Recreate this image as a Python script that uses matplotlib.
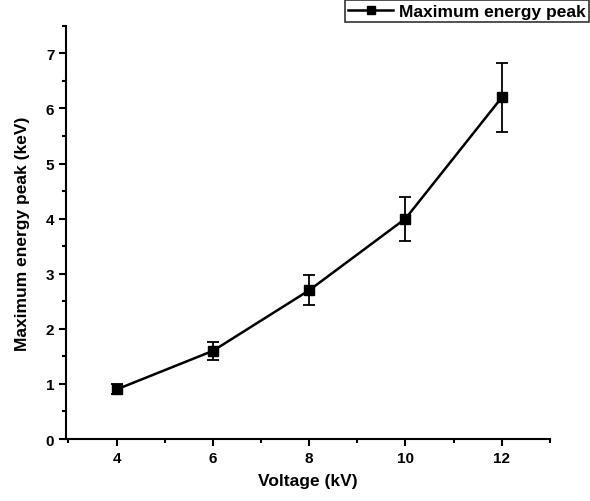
import matplotlib.pyplot as plt
from matplotlib.lines import Line2D
from matplotlib.ticker import MultipleLocator

plt.rcParams['font.family'] = ['Liberation Sans', 'DejaVu Sans']
plt.rcParams['font.weight'] = 'bold'

# Data
voltage = [4, 6, 8, 10, 12]
energy_peak = [0.9, 1.6, 2.7, 4.0, 6.2]
energy_err = [0.09, 0.16, 0.27, 0.4, 0.62]

fig = plt.figure(figsize=(5.9, 5.02), dpi=100)
ax = fig.add_axes([0.112, 0.1235, 0.82, 0.823])

ax.errorbar(voltage, energy_peak, yerr=energy_err, color='black', lw=1.8,
            marker='s', markersize=7.5, capsize=4, elinewidth=1.3, capthick=1.3)

ax.set_xlim(2.95, 13)
ax.set_ylim(0, 7.5)
ax.xaxis.set_minor_locator(MultipleLocator(1))
ax.yaxis.set_major_locator(MultipleLocator(1))
ax.yaxis.set_minor_locator(MultipleLocator(0.5))
ax.set_xticks(voltage)

for side in ['top', 'right']:
    ax.spines[side].set_visible(False)
for side in ['left', 'bottom']:
    ax.spines[side].set_linewidth(1.5)

ax.tick_params(which='major', direction='out', length=5, width=1.5, labelsize=11)
ax.tick_params(which='minor', direction='out', length=3, width=1.5)

ax.set_xlabel('Voltage (kV)', fontsize=12.5, fontweight='bold', labelpad=6)
ax.set_ylabel('Maximum energy peak (keV)', fontsize=12.5, fontweight='bold', labelpad=11)

# legend handle without the error bar
handle = Line2D([], [], color='black', lw=1.8, marker='s', markersize=6)
leg = fig.legend([handle], ['Maximum energy peak'], loc='upper right',
                 bbox_to_anchor=(0.998, 0.998), prop={'size': 12.5, 'weight': 'bold'},
                 frameon=True, fancybox=False, handlelength=2.6, handletextpad=0.3,
                 borderpad=0.2, borderaxespad=0)
leg.get_frame().set_edgecolor('black')
leg.get_frame().set_linewidth(1.2)

fig.savefig('out.png', dpi=100)
